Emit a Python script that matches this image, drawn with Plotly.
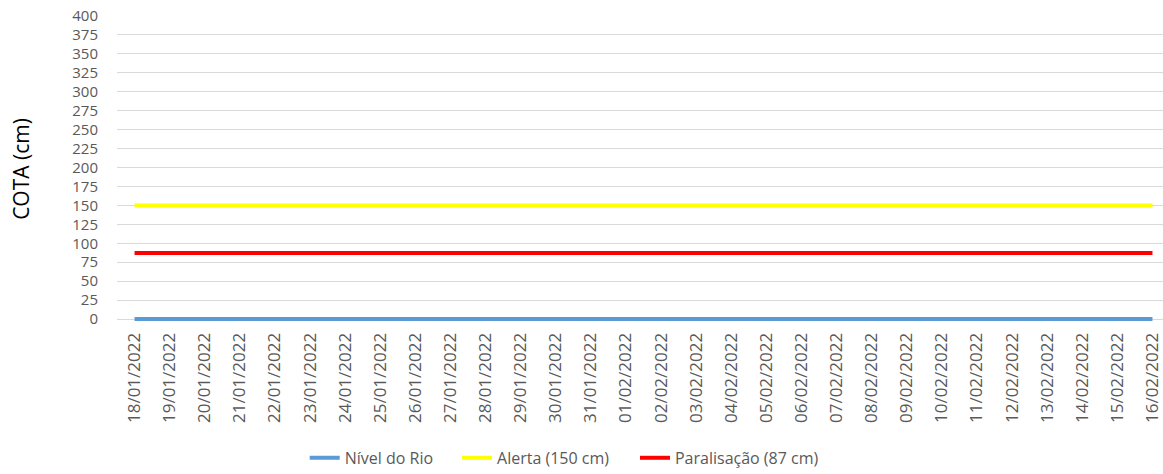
import plotly.graph_objects as go

# Daily river gauge readings (cm) and reference thresholds
datas = [
    "18/01/2022", "19/01/2022", "20/01/2022", "21/01/2022", "22/01/2022",
    "23/01/2022", "24/01/2022", "25/01/2022", "26/01/2022", "27/01/2022",
    "28/01/2022", "29/01/2022", "30/01/2022", "31/01/2022", "01/02/2022",
    "02/02/2022", "03/02/2022", "04/02/2022", "05/02/2022", "06/02/2022",
    "07/02/2022", "08/02/2022", "09/02/2022", "10/02/2022", "11/02/2022",
    "12/02/2022", "13/02/2022", "14/02/2022", "15/02/2022", "16/02/2022",
]
nivel_rio = [0, 0, 0, 0, 0, 0, 0, 0, 0, 0, 0, 0, 0, 0, 0,
             0, 0, 0, 0, 0, 0, 0, 0, 0, 0, 0, 0, 0, 0, 0]
alerta = [150, 150, 150, 150, 150, 150, 150, 150, 150, 150, 150, 150, 150, 150, 150,
          150, 150, 150, 150, 150, 150, 150, 150, 150, 150, 150, 150, 150, 150, 150]
paralisacao = [87, 87, 87, 87, 87, 87, 87, 87, 87, 87, 87, 87, 87, 87, 87,
               87, 87, 87, 87, 87, 87, 87, 87, 87, 87, 87, 87, 87, 87, 87]
y_ticks = [0, 25, 50, 75, 100, 125, 150, 175, 200, 225, 250, 275, 300, 325, 350, 375, 400]

FONT = "Open Sans"
GREY = "#595959"

fig = go.Figure()
# each series gets its own legend box so the three entries can be spaced freely
series = [
    ("Nível do Rio", nivel_rio, "#5b9bd5", "legend", 0.262),
    ("Alerta (150 cm)", alerta, "#ffff00", "legend2", 0.393),
    ("Paralisação (87 cm)", paralisacao, "#ff0000", "legend3", 0.546),
]
legend_layout = {}
for name, values, color, leg, lx in series:
    fig.add_trace(go.Scatter(
        x=datas, y=values, name=name, mode="lines",
        line=dict(color=color, width=4),
        legend=leg, showlegend=True,
    ))
    legend_layout[leg] = dict(
        orientation="h", xref="container", yref="container",
        x=lx, xanchor="left", y=0.034, yanchor="middle",
        font=dict(family=FONT, size=16, color=GREY),
        itemwidth=30, bgcolor="rgba(0,0,0,0)",
    )

# small negative floor keeps the full width of the zero-level line visible
fig.update_layout(
    width=1163, height=474,
    margin=dict(l=117, r=0, t=16, b=152),
    paper_bgcolor="white", plot_bgcolor="white",
    font=dict(family=FONT, size=16, color=GREY),
    showlegend=True,
    xaxis=dict(
        type="category", categoryorder="array", categoryarray=datas,
        range=[-0.5, 29.3], showgrid=False, zeroline=False,
        showline=False, ticks="outside", ticklen=3, tickcolor="white",
        tickangle=-90, tickfont=dict(family=FONT, size=17, color=GREY),
    ),
    yaxis=dict(
        range=[-3.96, 400], tickvals=y_ticks, showgrid=True,
        gridcolor="#d9d9d9", gridwidth=1, zeroline=False, showline=False,
        ticks="", ticklabelstandoff=18,
        tickfont=dict(family=FONT, size=15, color=GREY),
        title=dict(text="COTA (cm)", standoff=36,
                   font=dict(family=FONT, size=21, color="#000000")),
    ),
    **legend_layout,
)

fig.write_html("out.html")
